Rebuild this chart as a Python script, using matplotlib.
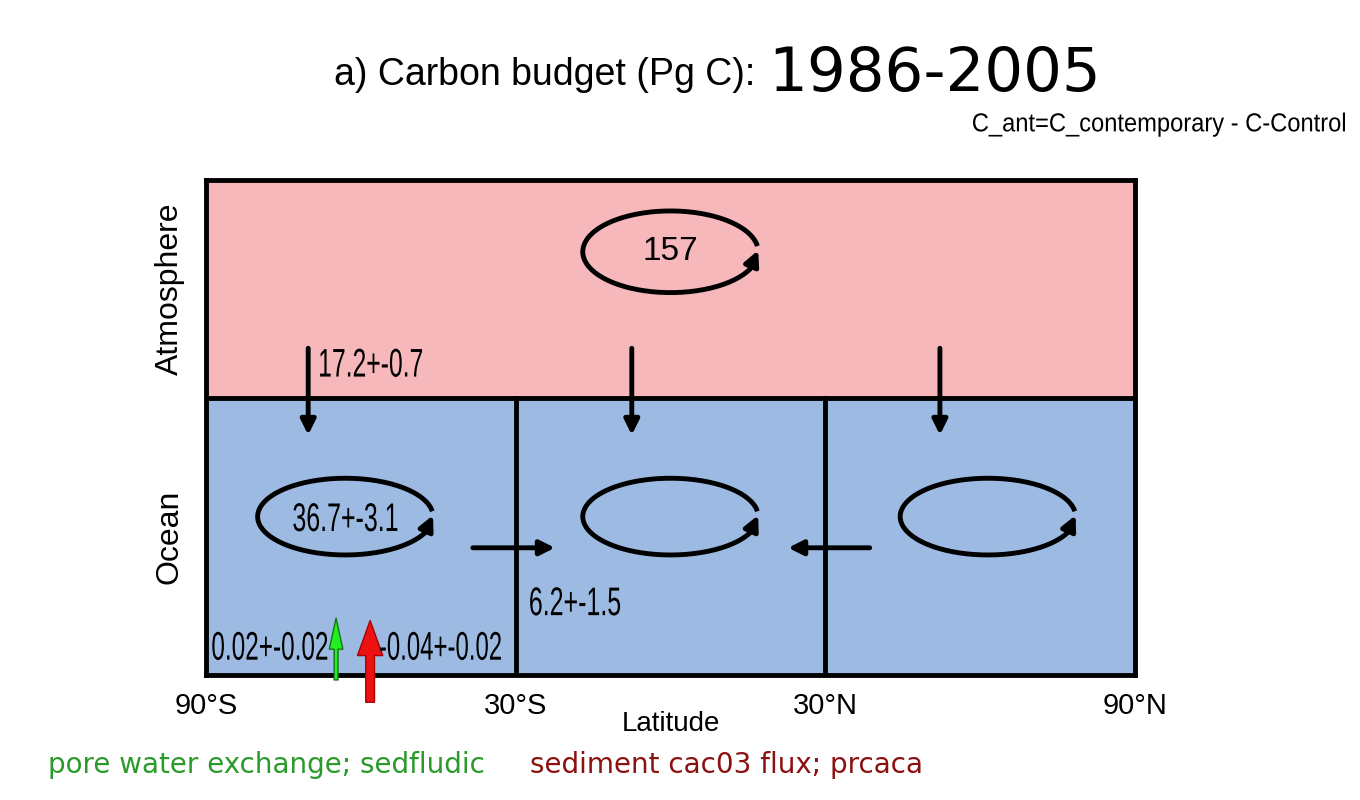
import numpy as np
import matplotlib.pyplot as plt
import matplotlib.transforms as mt
from matplotlib.patches import Rectangle, PathPatch
from matplotlib.textpath import TextPath
from matplotlib.font_manager import FontProperties

# latitude layout and budget values
lat_edges = [-90, -30, 30, 90]
tick_labels = ['90°S', '30°S', '30°N', '90°N']
ocean_top = 0.56
atm_total = '157'
air_sea = '17.2+-0.7'
so_store = '36.7+-3.1'
transport = '6.2+-1.5'
pore = '0.02+-0.02'
caco3 = '-0.04+-0.02'

LS = 'Liberation Sans'

fig = plt.figure(figsize=(13.6, 8), dpi=100)
ax = fig.add_axes([206/1360, 125/800, 929/1360, 495/800])
ax.set_xlim(-90, 90)
ax.set_ylim(0, 1)


def narrow(x, y, s, px, width, ha='left', trans=None, color='k'):
    # condensed text: glyph path squeezed horizontally to a given pixel width
    tp = TextPath((0, 0), s, size=px, prop=FontProperties(family=LS))
    bb = tp.get_extents()
    sx = width / bb.width
    dx = {'left': 0, 'center': -width/2, 'right': -width}[ha] - bb.x0*sx
    X, Y = (trans or ax.transData).transform((x, y))
    tr = mt.Affine2D().scale(sx, 1).translate(dx, -px*0.36).translate(X, Y)
    fig.add_artist(PathPatch(tp, transform=tr, fc=color, ec='none', zorder=10))


ax.add_patch(Rectangle((-90, ocean_top), 180, 1 - ocean_top, fc='#f6b8bb', ec='none', zorder=0))
ax.add_patch(Rectangle((-90, 0), 180, ocean_top, fc='#9dbbe2', ec='none', zorder=0))
ax.axhline(ocean_top, color='k', lw=3.5)
for x in lat_edges[1:-1]:
    ax.plot([x, x], [0, ocean_top], color='k', lw=3.5)
for s in ax.spines.values():
    s.set_linewidth(3.5)


def loop(cx, cy, w, h):
    t = np.deg2rad(np.linspace(8, 335, 200))
    ax.plot(cx + w/2*np.cos(t), cy + h/2*np.sin(t), color='k', lw=3.5, solid_capstyle='butt')
    t0, t1 = np.deg2rad(335), np.deg2rad(2)
    ax.annotate('', xy=(cx + w/2*np.cos(t1), cy + h/2*np.sin(t1)),
                xytext=(cx + w/2*np.cos(t0), cy + h/2*np.sin(t0)),
                arrowprops=dict(arrowstyle='-|>', color='k', lw=3.5, mutation_scale=22,
                                shrinkA=0, shrinkB=0))


loop(0, 0.855, 34, 0.165)
for cx in [-63, 0, 61.5]:
    loop(cx, 0.32, 34, 0.155)

arrow = dict(arrowstyle='-|>', color='k', lw=3.5, mutation_scale=22, shrinkA=0, shrinkB=0)
for x in [-70.2, -7.5, 52.2]:
    ax.annotate('', xy=(x, 0.485), xytext=(x, 0.66), arrowprops=arrow)
ax.annotate('', xy=(-22.4, 0.257), xytext=(-38.3, 0.257), arrowprops=arrow)
ax.annotate('', xy=(22.8, 0.257), xytext=(38.6, 0.257), arrowprops=arrow)
ax.annotate('', xy=(-64.8, 0.115), xytext=(-64.8, -0.01), annotation_clip=False,
            arrowprops=dict(arrowstyle='simple,head_width=0.7,head_length=1.6,tail_width=0.2',
                            fc='#22ee22', ec='#117711', lw=1, mutation_scale=14,
                            shrinkA=0, shrinkB=0))
ax.annotate('', xy=(-58.2, 0.11), xytext=(-58.2, -0.055), annotation_clip=False,
            arrowprops=dict(arrowstyle='simple,head_width=1.3,head_length=1.8,tail_width=0.45',
                            fc='#ee1111', ec='#aa0000', lw=1, mutation_scale=14,
                            shrinkA=0, shrinkB=0))

ax.text(0, 0.855, atm_total, ha='center', va='center', fontsize=24, family=LS)
narrow(-67.9, 0.632, air_sea, 40, 102)
narrow(-63, 0.32, so_store, 40, 104, ha='center')
narrow(-27.2, 0.15, transport, 40, 90)
narrow(-66.5, 0.06, pore, 40, 115, ha='right')
narrow(-56.3, 0.06, caco3, 40, 121)

ax.set_xticks(lat_edges)
ax.set_xticklabels(tick_labels, fontsize=21, family=LS)
ax.tick_params(length=0, pad=12)
ax.set_yticks([])
ax.set_xlabel('Latitude', fontsize=20, family=LS, labelpad=-6)
ax.text(-97, 0.78, 'Atmosphere', rotation=90, ha='center', va='center', fontsize=23, family=LS)
ax.text(-97, 0.28, 'Ocean', rotation=90, ha='center', va='center', fontsize=23, family=LS)

fig.text(755/1360, 1 - 75/800, 'a) Carbon budget (Pg C):', ha='right', va='center',
         fontsize=27, family=LS)
fig.text(768/1360, 1 - 75/800, '1986-2005', ha='left', va='center', fontsize=44)
narrow(1345/1360, 1 - 122/800, 'C_ant=C_contemporary - C-Control', 26, 372, ha='right',
       trans=fig.transFigure)
fig.text(48/1360, 1 - 765/800, 'pore water exchange; sedfludic', ha='left', va='center',
         fontsize=20, color='#2a9a2a')
fig.text(530/1360, 1 - 765/800, 'sediment cac03 flux; prcaca', ha='left', va='center',
         fontsize=20, color='#8b1010')

fig.savefig('out.png', dpi=100)
